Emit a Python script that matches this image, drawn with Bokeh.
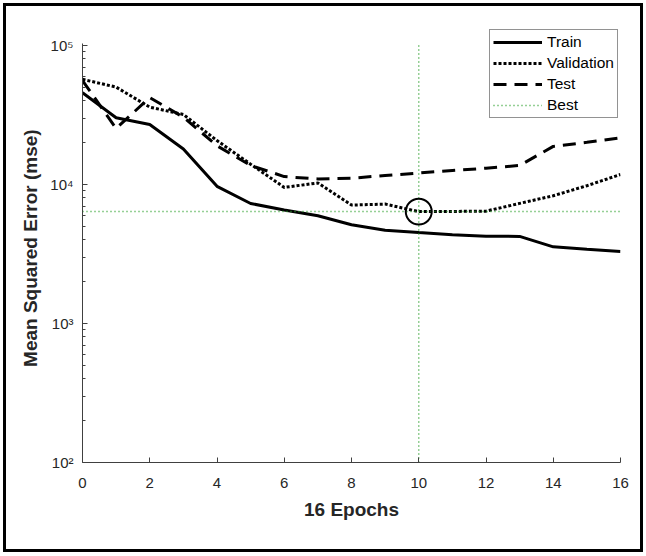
from bokeh.plotting import figure
from bokeh.models import FixedTicker, CustomJSTickFormatter, Range1d
from bokeh.embed import file_html
from bokeh.resources import INLINE

# ---- data ----
epochs = list(range(17))
train = [45800, 30200, 27000, 18000, 9700, 7300, 6550, 5960, 5130, 4690,
         4510, 4350, 4250, 4230, 3560, 3420, 3290]
validation = [57100, 50200, 36000, 31900, 20700, 14000, 9530, 10260, 7110, 7230,
              6380, 6400, 6430, 7310, 8300, 9800, 11800]
test = [56000, 25300, 42200, 30500, 19000, 13700, 11400, 10960, 11100, 11600,
        12100, 12600, 13100, 13700, 18800, 20100, 21700]
best_epoch = 10
best_value = 6380
x_ticks = [0, 2, 4, 6, 8, 10, 12, 14, 16]
y_ticks = [100, 1000, 10000, 100000]
y_limits = [100, 103500]
x_label = "16 Epochs"
y_label = "Mean Squared Error  (mse)"

FONT = "Liberation Sans"

p = figure(width=634, height=543, y_axis_type="log",
           x_range=Range1d(epochs[0], epochs[-1]),
           y_range=Range1d(y_limits[0], 132500),
           output_backend="svg", toolbar_location=None,
           min_border_left=76, min_border_right=26,
           min_border_top=22, min_border_bottom=93)
p.styles = {"border": "3px solid black", "margin": "3px",
            "box-sizing": "content-box"}
p.outline_line_color = None
p.xgrid.visible = False
p.ygrid.visible = False
p.background_fill_color = "white"
p.border_fill_color = "white"

# axes
p.xaxis.ticker = FixedTicker(ticks=x_ticks)
minor = [m * 10 ** e for e in range(2, 5) for m in range(2, 10)]
p.yaxis.ticker = FixedTicker(ticks=y_ticks, minor_ticks=minor)
p.yaxis.bounds = (y_limits[0], y_limits[1])
p.yaxis.formatter = CustomJSTickFormatter(code="""
const e = Math.round(Math.log10(tick));
const sup = {"0":"\u2070","1":"\u00b9","2":"\u00b2","3":"\u00b3","4":"\u2074","5":"\u2075","6":"\u2076"};
return "10" + String(e).split("").map(c => sup[c] || c).join("");
""")
for ax in (p.xaxis, p.yaxis):
    ax.axis_line_color = "#404040"
    ax.axis_line_width = 1
    ax.major_tick_line_color = "#404040"
    ax.major_tick_in = 5
    ax.major_tick_out = 0
    ax.minor_tick_in = 3
    ax.minor_tick_out = 0
    ax.minor_tick_line_color = "#404040"
    ax.major_label_text_font = FONT
    ax.major_label_text_font_size = "15px"
    ax.major_label_text_color = "#262626"
    ax.axis_label_text_font = FONT
    ax.axis_label_text_font_size = "19px"
    ax.axis_label_text_font_style = "bold"
    ax.axis_label_text_color = "#262626"
p.xaxis.minor_tick_line_color = None
p.xaxis.major_label_standoff = 15
p.xaxis.axis_label_standoff = 8
p.yaxis.major_label_standoff = 9
p.yaxis.axis_label_standoff = 6
p.xaxis.axis_label = x_label
p.yaxis.axis_label = y_label

# series
p.line(epochs, train, line_color="black", line_width=3, legend_label="Train")
p.line(epochs, validation, line_color="black", line_width=3, line_dash="3 2",
       legend_label="Validation")
p.line(epochs, test, line_color="black", line_width=3, line_dash="13 8",
       legend_label="Test")
green = "#2ca02c"
p.line([epochs[0], epochs[-1]], [best_value, best_value], line_color=green,
       line_width=1.5, line_dash="1 3", legend_label="Best")
p.line([best_epoch, best_epoch], y_limits, line_color=green,
       line_width=1.5, line_dash="1 3")
p.scatter([best_epoch], [best_value], marker="circle", size=26,
          fill_color=None, line_color="black", line_width=2)

# legend
lg = p.legend[0]
lg.location = (407, 344)
lg.border_line_color = "#262626"
lg.border_line_width = 1
lg.background_fill_color = "white"
lg.background_fill_alpha = 1
lg.label_text_font = FONT
lg.label_text_font_size = "15.5px"
lg.label_text_color = "black"
lg.glyph_width = 49
lg.glyph_height = 18
lg.label_height = 18
lg.label_standoff = 5
lg.spacing = 3
lg.padding = 3
lg.margin = 0

open("out.html", "w").write(file_html(p, INLINE))
